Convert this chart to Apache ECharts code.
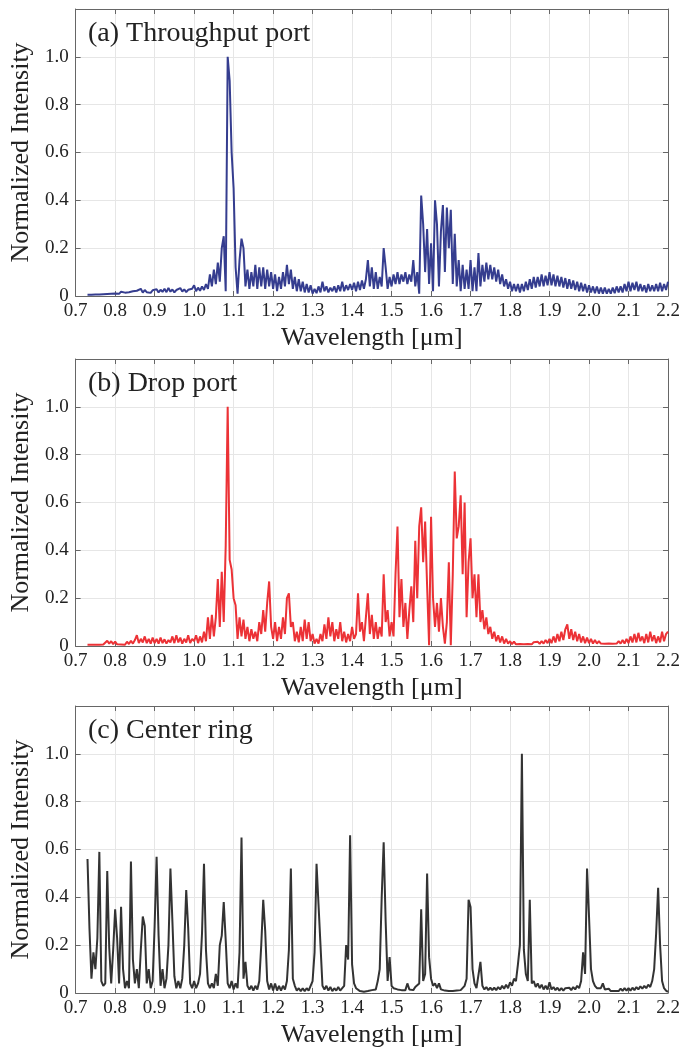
<!DOCTYPE html>
<html>
<head>
<meta charset="utf-8">
<script src="https://cdn.jsdelivr.net/npm/echarts@6/dist/echarts.min.js"></script>
<style>
html,body{margin:0;padding:0;background:#fff;}
#chart{width:683px;height:1052px;}
</style>
</head>
<body>
<div id="chart"></div>
<script>
// Wavelength samples [µm]
const wavelength = [
0.730,0.735,0.740,0.745,0.750,0.755,0.760,0.765,0.770,0.775,0.780,0.785,0.790,0.795,
0.800,0.805,0.810,0.815,0.820,0.825,0.830,0.835,0.840,0.845,0.850,0.855,0.860,0.865,0.870,0.875,0.880,0.885,0.890,0.895,
0.900,0.905,0.910,0.915,0.920,0.925,0.930,0.935,0.940,0.945,0.950,0.955,0.960,0.965,0.970,0.975,0.980,0.985,0.990,0.995,
1.000,1.005,1.010,1.015,1.020,1.025,1.030,1.035,1.040,1.045,1.050,1.055,1.060,1.065,1.070,1.075,1.080,1.085,1.090,1.095,
1.100,1.105,1.110,1.115,1.120,1.125,1.130,1.135,1.140,1.145,1.150,1.155,1.160,1.165,1.170,1.175,1.180,1.185,1.190,1.195,
1.200,1.205,1.210,1.215,1.220,1.225,1.230,1.235,1.240,1.245,1.250,1.255,1.260,1.265,1.270,1.275,1.280,1.285,1.290,1.295,
1.300,1.305,1.310,1.315,1.320,1.325,1.330,1.335,1.340,1.345,1.350,1.355,1.360,1.365,1.370,1.375,1.380,1.385,1.390,1.395,
1.400,1.405,1.410,1.415,1.420,1.425,1.430,1.435,1.440,1.445,1.450,1.455,1.460,1.465,1.470,1.475,1.480,1.485,1.490,1.495,
1.500,1.505,1.510,1.515,1.520,1.525,1.530,1.535,1.540,1.545,1.550,1.555,1.560,1.565,1.570,1.575,1.580,1.585,1.590,1.595,
1.600,1.605,1.610,1.615,1.620,1.625,1.630,1.635,1.640,1.645,1.650,1.655,1.660,1.665,1.670,1.675,1.680,1.685,1.690,1.695,
1.700,1.705,1.710,1.715,1.720,1.725,1.730,1.735,1.740,1.745,1.750,1.755,1.760,1.765,1.770,1.775,1.780,1.785,1.790,1.795,
1.800,1.805,1.810,1.815,1.820,1.825,1.830,1.835,1.840,1.845,1.850,1.855,1.860,1.865,1.870,1.875,1.880,1.885,1.890,1.895,
1.900,1.905,1.910,1.915,1.920,1.925,1.930,1.935,1.940,1.945,1.950,1.955,1.960,1.965,1.970,1.975,1.980,1.985,1.990,1.995,
2.000,2.005,2.010,2.015,2.020,2.025,2.030,2.035,2.040,2.045,2.050,2.055,2.060,2.065,2.070,2.075,2.080,2.085,2.090,2.095,
2.100,2.105,2.110,2.115,2.120,2.125,2.130,2.135,2.140,2.145,2.150,2.155,2.160,2.165,2.170,2.175,2.180,2.185,2.190,2.195,
2.200
];

// (a) Throughput port
const throughput = [
0.005,0.006,0.005,0.007,0.006,0.008,0.006,0.009,0.007,0.010,0.008,0.012,0.009,0.011,
0.010,0.015,0.009,0.018,0.011,0.014,0.010,0.016,0.012,0.020,0.013,0.022,0.015,0.030,0.014,0.025,0.016,0.021,0.013,0.024,
0.018,0.028,0.015,0.026,0.017,0.030,0.016,0.034,0.018,0.027,0.015,0.025,0.017,0.033,0.019,0.028,0.016,0.026,0.018,0.030,
0.045,0.020,0.035,0.022,0.040,0.025,0.050,0.030,0.090,0.040,0.110,0.050,0.140,0.060,0.200,0.250,0.020,1.000,0.900,0.600,
0.450,0.120,0.010,0.150,0.240,0.200,0.040,0.110,0.030,0.100,0.040,0.130,0.030,0.120,0.040,0.120,0.030,0.110,0.040,0.100,
0.030,0.090,0.020,0.080,0.030,0.100,0.040,0.130,0.050,0.110,0.030,0.080,0.020,0.070,0.020,0.060,0.015,0.050,0.015,0.045,
0.010,0.030,0.012,0.040,0.015,0.060,0.020,0.040,0.015,0.035,0.020,0.040,0.015,0.045,0.020,0.060,0.020,0.045,0.025,0.050,
0.025,0.055,0.020,0.060,0.025,0.065,0.030,0.070,0.150,0.040,0.120,0.030,0.100,0.030,0.080,0.040,0.200,0.120,0.030,0.080,
0.040,0.090,0.050,0.100,0.050,0.090,0.060,0.100,0.050,0.090,0.060,0.150,0.040,0.100,0.010,0.420,0.300,0.100,0.280,0.050,
0.220,0.020,0.400,0.300,0.040,0.270,0.380,0.100,0.370,0.200,0.360,0.050,0.260,0.040,0.150,0.020,0.130,0.030,0.110,0.030,
0.150,0.020,0.120,0.020,0.180,0.040,0.130,0.060,0.140,0.070,0.130,0.070,0.120,0.060,0.110,0.050,0.090,0.040,0.070,0.030,
0.060,0.020,0.050,0.020,0.050,0.015,0.050,0.020,0.060,0.025,0.070,0.030,0.080,0.035,0.080,0.040,0.090,0.040,0.085,0.045,
0.100,0.045,0.090,0.040,0.085,0.040,0.080,0.035,0.075,0.030,0.070,0.030,0.065,0.025,0.060,0.020,0.055,0.020,0.050,0.015,
0.045,0.015,0.040,0.012,0.040,0.010,0.035,0.010,0.035,0.010,0.030,0.010,0.035,0.012,0.040,0.015,0.040,0.015,0.050,0.020,
0.060,0.020,0.055,0.025,0.060,0.020,0.050,0.020,0.045,0.015,0.050,0.020,0.045,0.020,0.050,0.020,0.055,0.020,0.050,0.025,
0.060
];

// (b) Drop port
const dropPort = [
0.005,0.005,0.005,0.005,0.005,0.005,0.005,0.005,0.006,0.006,0.022,0.010,0.020,0.008,
0.018,0.007,0.015,0.006,0.012,0.005,0.018,0.008,0.022,0.010,0.025,0.045,0.012,0.030,0.015,0.040,0.012,0.030,0.010,0.035,
0.012,0.030,0.010,0.035,0.012,0.028,0.010,0.025,0.015,0.040,0.012,0.045,0.015,0.035,0.010,0.030,0.015,0.045,0.012,0.030,
0.020,0.045,0.012,0.040,0.015,0.060,0.020,0.120,0.030,0.130,0.040,0.120,0.280,0.080,0.310,0.100,0.420,1.000,0.360,0.320,
0.200,0.170,0.030,0.120,0.040,0.110,0.030,0.080,0.020,0.070,0.030,0.060,0.020,0.100,0.050,0.150,0.060,0.180,0.270,0.080,
0.030,0.100,0.020,0.080,0.030,0.120,0.050,0.200,0.220,0.080,0.100,0.020,0.060,0.015,0.080,0.020,0.110,0.030,0.100,0.020,
0.050,0.010,0.030,0.010,0.050,0.020,0.090,0.030,0.120,0.040,0.100,0.020,0.070,0.030,0.100,0.020,0.060,0.015,0.050,0.020,
0.080,0.030,0.050,0.220,0.060,0.100,0.020,0.120,0.220,0.050,0.130,0.030,0.100,0.030,0.080,0.040,0.300,0.100,0.150,0.040,
0.100,0.040,0.300,0.500,0.120,0.280,0.080,0.180,0.030,0.150,0.250,0.100,0.440,0.200,0.500,0.580,0.350,0.520,0.250,0.003,
0.540,0.200,0.080,0.180,0.060,0.200,0.080,0.010,0.100,0.350,0.003,0.300,0.730,0.450,0.500,0.630,0.300,0.600,0.120,0.350,
0.450,0.200,0.300,0.120,0.300,0.100,0.150,0.070,0.120,0.050,0.080,0.030,0.060,0.020,0.045,0.015,0.040,0.010,0.030,0.010,
0.020,0.008,0.018,0.007,0.015,0.008,0.016,0.007,0.014,0.008,0.015,0.007,0.016,0.008,0.018,0.009,0.020,0.010,0.025,0.012,
0.030,0.012,0.040,0.015,0.050,0.020,0.060,0.025,0.070,0.090,0.030,0.070,0.025,0.060,0.020,0.050,0.015,0.040,0.012,0.035,
0.012,0.030,0.010,0.025,0.010,0.020,0.010,0.018,0.009,0.015,0.010,0.015,0.009,0.015,0.010,0.020,0.010,0.025,0.010,0.030,
0.012,0.040,0.015,0.050,0.015,0.055,0.020,0.040,0.012,0.050,0.015,0.060,0.020,0.045,0.012,0.040,0.015,0.060,0.020,0.050,
0.060
];

// (c) Center ring
const centerRing = [
0.560,0.270,0.060,0.170,0.100,0.230,0.590,0.050,0.030,0.040,0.510,0.190,0.040,0.180,
0.350,0.230,0.040,0.360,0.100,0.020,0.050,0.020,0.550,0.140,0.040,0.100,0.020,0.180,0.320,0.280,0.040,0.100,0.020,0.050,
0.280,0.570,0.240,0.030,0.100,0.020,0.060,0.200,0.520,0.300,0.070,0.020,0.050,0.020,0.060,0.200,0.430,0.270,0.040,0.020,
0.050,0.020,0.040,0.080,0.250,0.540,0.180,0.040,0.020,0.040,0.020,0.080,0.030,0.200,0.240,0.380,0.220,0.040,0.020,0.050,
0.015,0.040,0.020,0.170,0.650,0.060,0.130,0.030,0.015,0.030,0.010,0.030,0.015,0.050,0.200,0.390,0.260,0.050,0.015,0.040,
0.010,0.040,0.010,0.030,0.010,0.030,0.015,0.050,0.180,0.520,0.060,0.030,0.010,0.020,0.008,0.020,0.008,0.020,0.010,0.030,
0.050,0.170,0.540,0.370,0.200,0.030,0.015,0.030,0.010,0.025,0.008,0.020,0.010,0.025,0.010,0.020,0.030,0.200,0.140,0.660,
0.120,0.040,0.020,0.012,0.008,0.006,0.005,0.006,0.008,0.010,0.012,0.020,0.015,0.050,0.100,0.400,0.630,0.300,0.050,0.150,
0.030,0.020,0.025,0.015,0.020,0.012,0.018,0.012,0.040,0.015,0.020,0.012,0.025,0.020,0.040,0.350,0.050,0.080,0.500,0.150,
0.060,0.030,0.040,0.020,0.040,0.015,0.020,0.010,0.015,0.008,0.012,0.008,0.012,0.010,0.015,0.012,0.020,0.030,0.060,0.390,
0.360,0.100,0.040,0.020,0.020,0.130,0.030,0.015,0.025,0.012,0.022,0.012,0.022,0.012,0.025,0.015,0.030,0.018,0.035,0.020,
0.045,0.030,0.060,0.050,0.120,0.200,1.000,0.180,0.080,0.050,0.390,0.040,0.050,0.025,0.040,0.020,0.035,0.015,0.030,0.015,
0.045,0.015,0.025,0.012,0.022,0.010,0.020,0.010,0.020,0.012,0.022,0.012,0.025,0.015,0.030,0.020,0.050,0.170,0.080,0.520,
0.320,0.100,0.050,0.030,0.020,0.012,0.020,0.040,0.015,0.010,0.018,0.008,0.016,0.008,0.016,0.008,0.018,0.009,0.020,0.010,
0.020,0.010,0.022,0.012,0.025,0.015,0.028,0.018,0.030,0.020,0.035,0.025,0.050,0.100,0.250,0.440,0.200,0.050,0.020,0.010,
0.005
];

const panelTitles = ['(a) Throughput port', '(b) Drop port', '(c) Center ring'];
const panelColors = ['#353d8f', '#ec3236', '#333333'];
const xAxisName = 'Wavelength [\u03bcm]';
const yAxisName = 'Normalized Intensity';
const panelData = [throughput, dropPort, centerRing];

const FONT = "'Liberation Serif','Times New Roman',serif";
const TXT = '#222';
const BORDER = '#666';
const GRIDC = '#e6e6e6';
const gridTops = [9, 359, 706];
const gridHeight = 287;

const chart = echarts.init(document.getElementById('chart'), null, {renderer: 'canvas'});

const grid = [], xAxis = [], yAxis = [], series = [], title = [];
panelData.forEach((vals, i) => {
  grid.push({left: 75, right: 15, top: gridTops[i], height: gridHeight});
  xAxis.push({
    gridIndex: i, type: 'value', min: 0.7, max: 2.2, interval: 0.1,
    axisLine: {show: true, onZero: false, lineStyle: {color: BORDER, width: 1}},
    axisTick: {show: true, inside: true, length: 5, lineStyle: {color: BORDER}},
    axisLabel: {margin: 6, fontSize: 19, color: TXT, fontFamily: FONT,
      formatter: v => v.toFixed(1)},
    splitLine: {show: true, lineStyle: {color: GRIDC, width: 1}},
    name: xAxisName, nameLocation: 'middle', nameGap: 29,
    nameTextStyle: {fontSize: 26, color: TXT, fontFamily: FONT}
  });
  xAxis.push({
    gridIndex: i, type: 'value', min: 0.7, max: 2.2, interval: 0.1, position: 'top',
    axisLine: {show: true, onZero: false, lineStyle: {color: BORDER, width: 1}},
    axisTick: {show: true, inside: true, length: 5, lineStyle: {color: BORDER}},
    axisLabel: {show: false}, splitLine: {show: false}
  });
  yAxis.push({
    gridIndex: i, type: 'value', min: 0, max: 1.2, interval: 0.2,
    axisLine: {show: true, onZero: false, lineStyle: {color: BORDER, width: 1}},
    axisTick: {show: true, inside: true, length: 5, lineStyle: {color: BORDER}},
    axisLabel: {margin: 7, fontSize: 19, color: TXT, fontFamily: FONT,
      formatter: v => (v === 0 ? '0' : (Math.abs(v - 1.2) < 1e-6 ? '' : v.toFixed(1)))},
    splitLine: {show: true, lineStyle: {color: GRIDC, width: 1}},
    name: yAxisName, nameLocation: 'middle', nameGap: 39, nameRotate: 90,
    nameTextStyle: {fontSize: 26, color: TXT, fontFamily: FONT}
  });
  yAxis.push({
    gridIndex: i, type: 'value', min: 0, max: 1.2, interval: 0.2, position: 'right',
    axisLine: {show: true, onZero: false, lineStyle: {color: BORDER, width: 1}},
    axisTick: {show: true, inside: true, length: 5, lineStyle: {color: BORDER}},
    axisLabel: {show: false}, splitLine: {show: false}
  });
  series.push({
    type: 'line', xAxisIndex: 2 * i, yAxisIndex: 2 * i,
    data: wavelength.map((w, k) => [w, vals[k]]),
    showSymbol: false, symbol: 'none', animation: false,
    lineStyle: {color: panelColors[i], width: 2},
    itemStyle: {color: panelColors[i]}
  });
  title.push({
    text: panelTitles[i], left: 88, top: gridTops[i] + 11, padding: 0,
    textStyle: {fontSize: 28, fontWeight: 'normal', color: TXT, fontFamily: FONT}
  });
});

chart.setOption({
  backgroundColor: '#fff',
  animation: false,
  title, grid, xAxis, yAxis, series
});
</script>
</body>
</html>
